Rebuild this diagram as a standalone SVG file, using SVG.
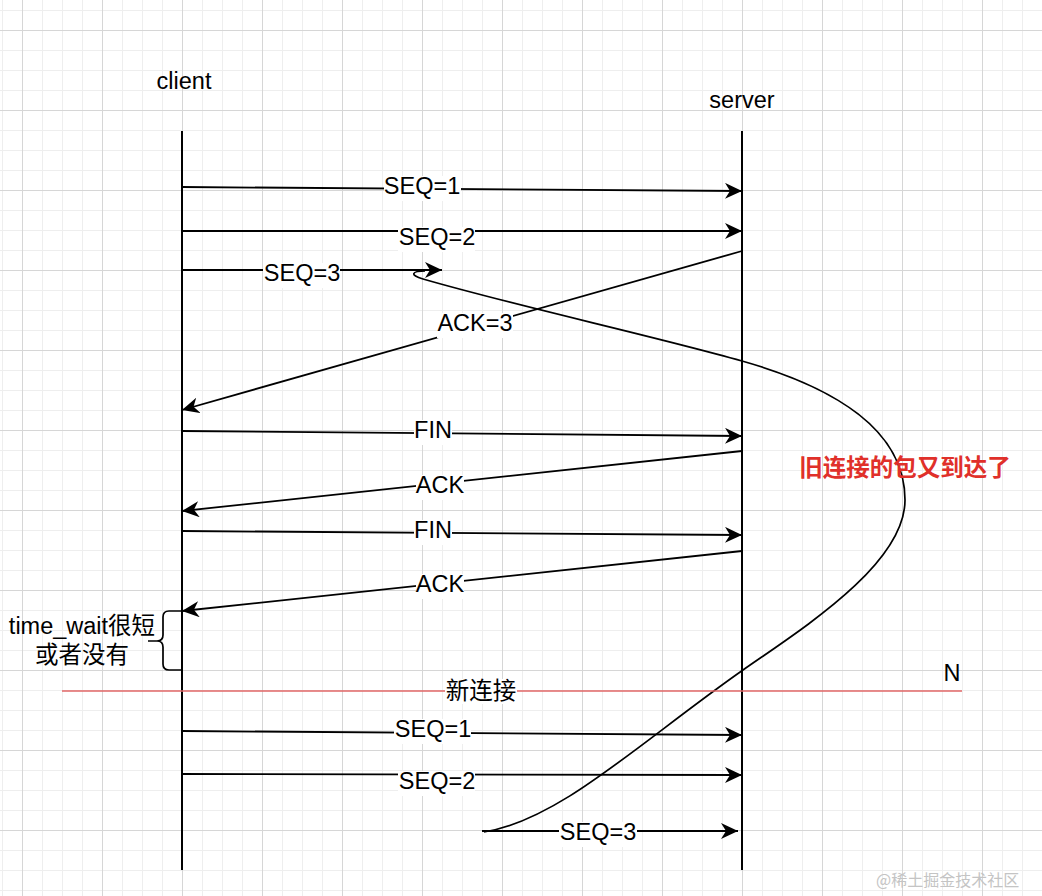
<svg xmlns="http://www.w3.org/2000/svg" width="1042" height="896" viewBox="0 0 1042 896">
<defs>
<pattern id="gMinor" x="-8" y="0" width="20" height="20" patternUnits="userSpaceOnUse"><path d="M10.5 0V20M0 10.5H20" stroke="#eeeeee" stroke-width="1" fill="none"/></pattern>
<pattern id="gMajor" x="-18" y="-10" width="80" height="80" patternUnits="userSpaceOnUse"><path d="M40.5 0V80M0 40.5H80" stroke="#d6d6d6" stroke-width="1" fill="none"/></pattern>
<marker id="arr" markerWidth="19" markerHeight="17" refX="17" refY="8" orient="auto" markerUnits="userSpaceOnUse"><path d="M0,0 L17,8 L0,16 L5,8 z" fill="#000"/></marker>
</defs>
<style>
.life{stroke:#000;stroke-width:2;fill:none}
.msg{stroke:#000;stroke-width:1.8;fill:none;marker-end:url(#arr)}
.curve{stroke:#000;stroke-width:1.7;fill:none}
.lbl{font-family:"Liberation Sans",Helvetica,Arial,"Noto Sans CJK SC",sans-serif;font-size:23.5px;fill:#000;text-anchor:middle}
.bg{fill:#fff}
.red{font-family:"Liberation Sans",Helvetica,Arial,"Noto Sans CJK SC",sans-serif;font-size:23.5px;font-weight:bold;fill:#e0302a;text-anchor:middle}
.wm{font-family:"Noto Sans CJK SC",sans-serif;font-size:16px;fill:#c4c4c4}
</style>
<rect width="1042" height="896" fill="#ffffff"/>
<rect width="1042" height="896" fill="url(#gMinor)"/>
<rect width="1042" height="896" fill="url(#gMajor)"/>

<g id="client">
<text class="lbl" x="184" y="89">client</text>
<line class="life" x1="182" y1="131" x2="182" y2="870"/>
</g>
<g id="server">
<text class="lbl" x="742" y="108">server</text>
<line class="life" x1="742" y1="131" x2="742" y2="870"/>
</g>

<g id="connectors">
<path class="curve" d="M425 271 C412 271,409 275,423 279 C520 307,650 335,742 361 C834 387,905 430,905 500 C905 565,800 630,743 670 C640 742,560 820,484 832"/>
<line class="msg" x1="182" y1="187" x2="742" y2="191"/>
<line class="msg" x1="182" y1="231" x2="742" y2="231"/>
<line class="msg" x1="182" y1="270" x2="442" y2="270"/>
<line class="msg" x1="742" y1="251" x2="182" y2="410"/>
<line class="msg" x1="182" y1="431" x2="742" y2="436"/>
<line class="msg" x1="742" y1="451" x2="182" y2="511"/>
<line class="msg" x1="182" y1="531" x2="742" y2="535"/>
<line class="msg" x1="742" y1="551" x2="182" y2="611"/>
<line class="msg" x1="182" y1="731" x2="742" y2="735"/>
<line class="msg" x1="182" y1="774" x2="742" y2="775"/>
<line class="msg" x1="482" y1="831" x2="738" y2="831"/>
<line x1="62" y1="691" x2="962" y2="691" stroke="#e06666" stroke-width="1.6"/>
</g>

<g id="labels">
<rect class="bg" x="384" y="176" width="77" height="25"/><text class="lbl" x="422" y="194">SEQ=1</text>
<rect class="bg" x="398" y="227" width="77" height="25"/><text class="lbl" x="437" y="245">SEQ=2</text>
<rect class="bg" x="263" y="263" width="77" height="25"/><text class="lbl" x="302" y="281">SEQ=3</text>
<rect class="bg" x="437" y="313" width="76" height="25"/><text class="lbl" x="475" y="331">ACK=3</text>
<rect class="bg" x="414" y="420" width="38" height="25"/><text class="lbl" x="433" y="438">FIN</text>
<rect class="bg" x="416" y="475" width="48" height="25"/><text class="lbl" x="440" y="493">ACK</text>
<rect class="bg" x="414" y="520" width="38" height="25"/><text class="lbl" x="433" y="538">FIN</text>
<rect class="bg" x="416" y="574" width="48" height="25"/><text class="lbl" x="440" y="592">ACK</text>
<rect class="bg" x="445" y="679" width="72" height="25"/><text class="lbl" x="481" y="699">新连接</text>
<rect class="bg" x="394" y="719" width="77" height="25"/><text class="lbl" x="433" y="737">SEQ=1</text>
<rect class="bg" x="398" y="771" width="77" height="25"/><text class="lbl" x="437" y="789">SEQ=2</text>
<rect class="bg" x="559" y="822" width="78" height="25"/><text class="lbl" x="598" y="840">SEQ=3</text>
<text class="lbl" x="952" y="681">N</text>
<text class="red" x="905" y="476">旧连接的包又到达了</text>
</g>

<g id="timewait">
<path d="M182 611 H169 Q163 611 163 617 V635 Q163 641 157 641 H148 M157 641 Q163 641 163 647 V664 Q163 670 169 670 H182" stroke="#000" stroke-width="1.7" fill="none"/>
<text class="lbl" x="82" y="634">time_wait很短</text>
<text class="lbl" x="82" y="663">或者没有</text>
</g>

<text class="wm" x="876" y="886">@稀土掘金技术社区</text>
</svg>
